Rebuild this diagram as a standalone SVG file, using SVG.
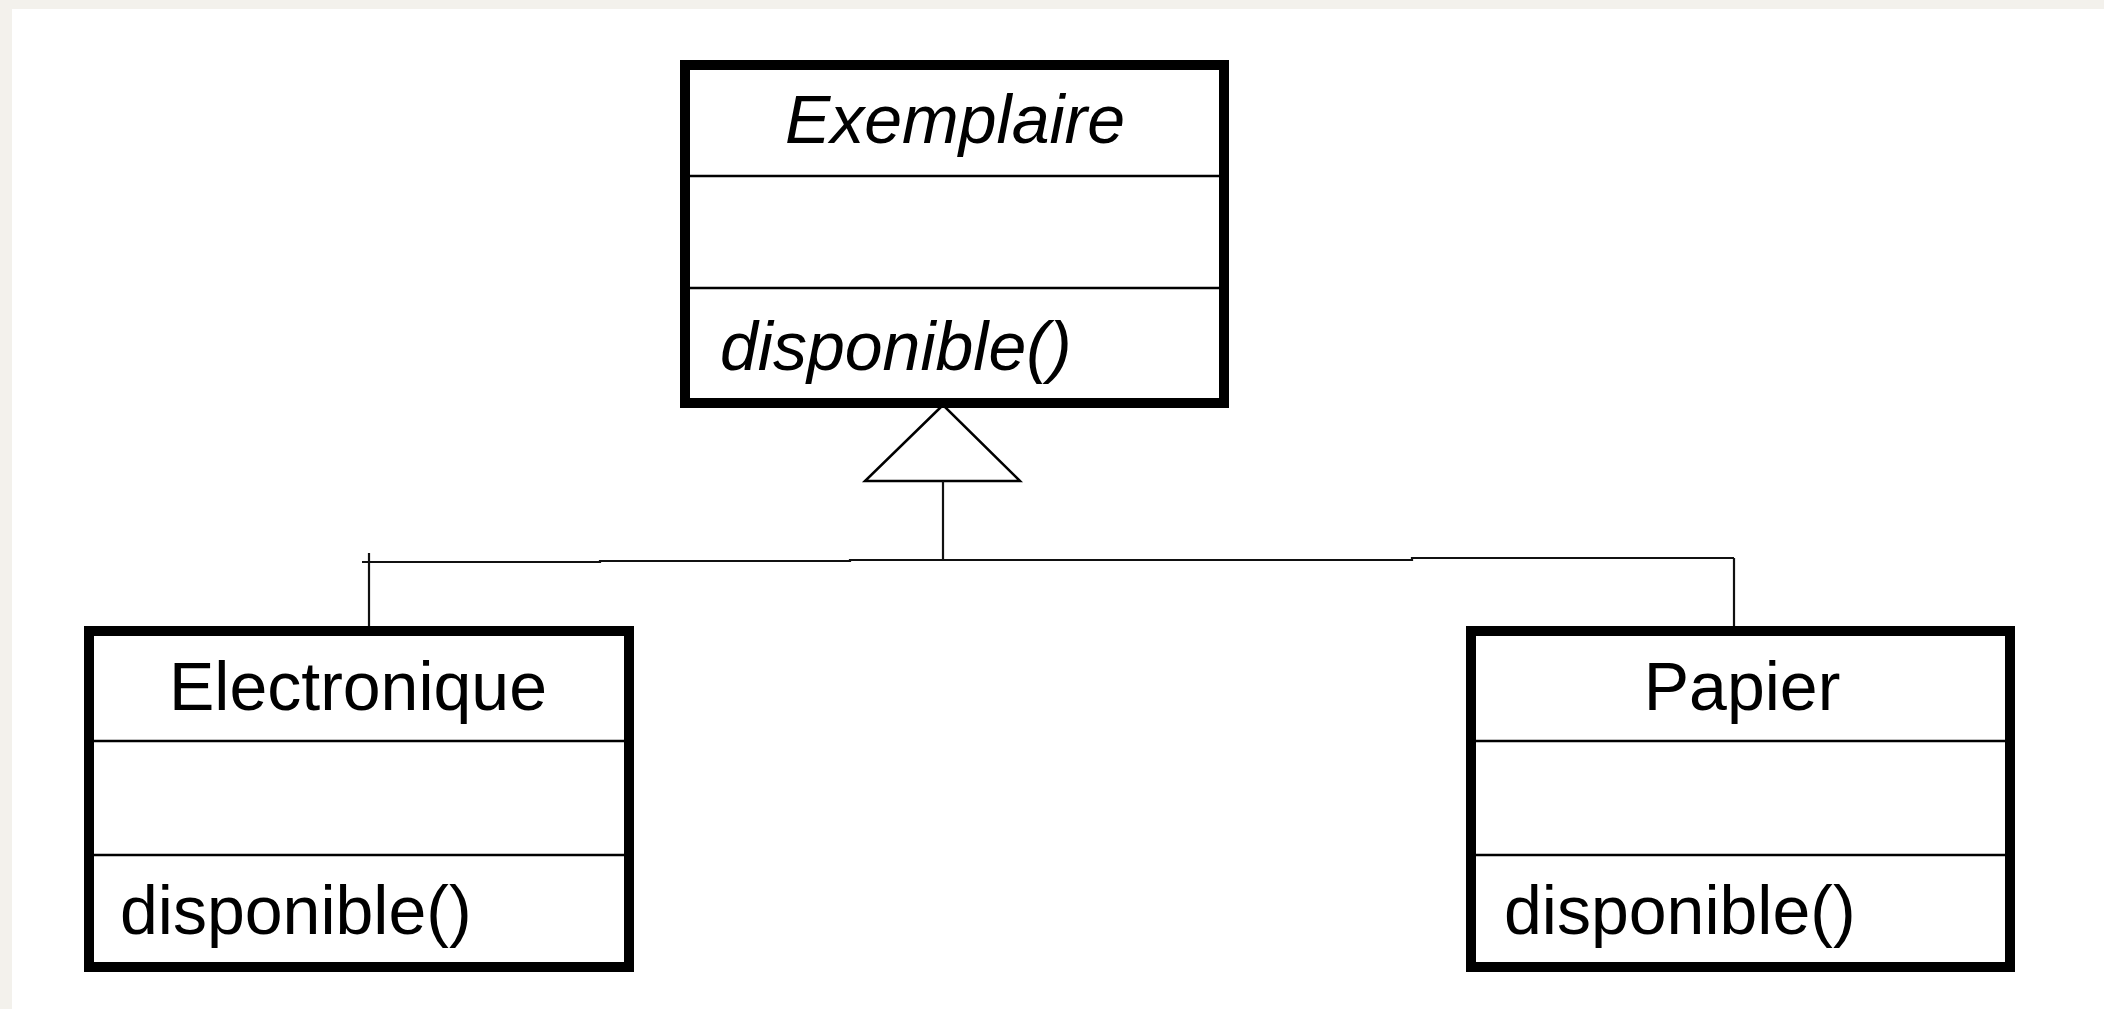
<svg xmlns="http://www.w3.org/2000/svg" width="2104" height="1009" viewBox="0 0 2104 1009">
<style>
.box{fill:#fff;stroke:#000;stroke-width:10}
.div{stroke:#000;stroke-width:2.5}
.t{font-family:"Liberation Sans",Arial,sans-serif;font-size:68px;fill:#000}
.i{font-style:italic}
.c{text-anchor:middle}
.ln{fill:none;stroke:#111;stroke-width:2.2}
</style>
<rect x="0" y="0" width="2104" height="1009" fill="#f3f1ec"/>
<rect x="12" y="9" width="2092" height="1000" fill="#fff"/>
<g id="connectors">
<polygon points="943,405 865,481 1020,481" fill="#fff" stroke="#000" stroke-width="2.5"/>
<line class="ln" x1="943" y1="481" x2="943" y2="561"/>
<path class="ln" d="M362,562 H600 V561 H850 V560 H1412 V558 H1734"/>
<line class="ln" x1="369" y1="553" x2="369" y2="626"/>
<line class="ln" x1="1734" y1="558" x2="1734" y2="626"/>
</g>
<g id="exemplaire">
<rect class="box" x="685" y="65" width="539" height="338"/>
<line class="div" x1="685" y1="176" x2="1224" y2="176"/>
<line class="div" x1="685" y1="288" x2="1224" y2="288"/>
<text class="t i c" x="955" y="143">Exemplaire</text>
<text class="t i" x="720" y="370">disponible()</text>
</g>
<g id="electronique">
<rect class="box" x="89" y="631" width="540" height="336"/>
<line class="div" x1="89" y1="741" x2="629" y2="741"/>
<line class="div" x1="89" y1="855" x2="629" y2="855"/>
<text class="t c" x="358" y="710">Electronique</text>
<text class="t" x="120" y="934">disponible()</text>
</g>
<g id="papier">
<rect class="box" x="1471" y="631" width="539" height="336"/>
<line class="div" x1="1471" y1="741" x2="2010" y2="741"/>
<line class="div" x1="1471" y1="855" x2="2010" y2="855"/>
<text class="t c" x="1742" y="710">Papier</text>
<text class="t" x="1504" y="934">disponible()</text>
</g>
</svg>
